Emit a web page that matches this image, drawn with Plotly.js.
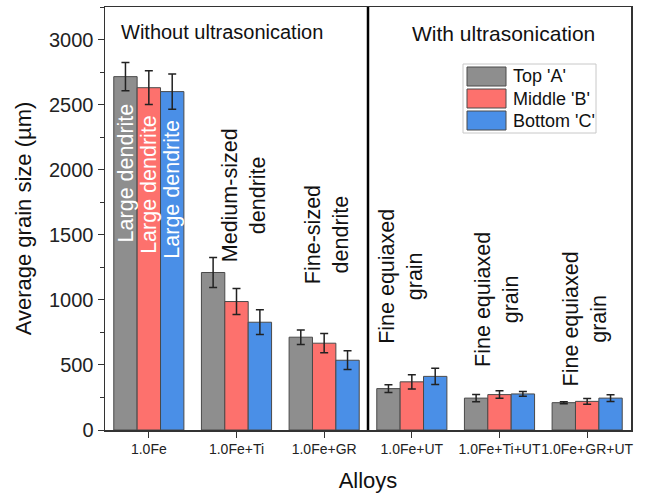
<!DOCTYPE html>
<html>
<head>
<meta charset="utf-8">
<script src="https://cdn.plot.ly/plotly-3.0.1.min.js"></script>
<style>html,body{margin:0;padding:0;background:#fff;}#chart{width:666px;height:494px;}</style>
</head>
<body>
<div id="chart"></div>
<script>
var categories = ["1.0Fe", "1.0Fe+Ti", "1.0Fe+GR", "1.0Fe+UT", "1.0Fe+Ti+UT", "1.0Fe+GR+UT"];
var seriesNames = ["Top 'A'", "Middle 'B'", "Bottom 'C'"];
var topA = [2715, 1210, 713, 318, 245, 210];
var topAErr = [108, 115, 56, 30, 28, 8];
var middleB = [2630, 987, 667, 370, 272, 220];
var middleBErr = [130, 100, 74, 55, 29, 22];
var bottomC = [2600, 828, 536, 412, 277, 245];
var bottomCErr = [135, 95, 72, 62, 18, 26];
var yTicks = [0, 500, 1000, 1500, 2000, 2500, 3000];

var colors = ["#8e8e8e", "#fd716d", "#4a8fe7"];
var values = [topA, middleB, bottomC];
var errs = [topAErr, middleBErr, bottomCErr];
var FONT = "Liberation Sans, Arial, sans-serif";

var traces = values.map(function (v, i) {
  return {
    type: "bar",
    name: seriesNames[i],
    x: categories,
    y: v,
    marker: {color: colors[i], line: {color: "#4a4a4a", width: 1}},
    error_y: {type: "data", array: errs[i], visible: true, color: "#222", thickness: 1.5, width: 4},
    showlegend: false,
    hoverinfo: "x+y+name"
  };
});

var annotations = [
  {x: 0.835, y: 3060, text: "Without ultrasonication", font: {size: 20, color: "#111"}},
  {x: 4.04, y: 3050, text: "With ultrasonication", font: {size: 21, color: "#111"}},
  {x: -0.2667, y: 1975, text: "Large dendrite", textangle: -90, font: {size: 21.5, color: "#fff"}},
  {x: 0, y: 1890, text: "Large dendrite", textangle: -90, font: {size: 21.5, color: "#fff"}},
  {x: 0.2667, y: 1848, text: "Large dendrite", textangle: -90, font: {size: 21.5, color: "#fff"}},
  {x: 1.08, y: 1800, text: "Medium-sized<br>dendrite", textangle: -90, font: {size: 21.5, color: "#111"}},
  {x: 2.025, y: 1500, text: "Fine-sized<br>dendrite", textangle: -90, font: {size: 21.5, color: "#111"}},
  {x: 2.877, y: 1177, text: "Fine equiaxed<br>grain", textangle: -90, font: {size: 21.5, color: "#111"}},
  {x: 3.972, y: 1000, text: "Fine equiaxed<br>grain", textangle: -90, font: {size: 21.5, color: "#111"}},
  {x: 4.98, y: 853, text: "Fine equiaxed<br>grain", textangle: -90, font: {size: 21.5, color: "#111"}}
].map(function (a) {
  a.xref = "x"; a.yref = "y"; a.showarrow = false;
  a.font.family = FONT;
  return a;
});

// custom legend (paper coordinates)
function px(x) { return (x - 105) / 526; }
function py(y) { return (430 - y) / 423; }
var shapes = [
  {type: "line", xref: "x", yref: "paper", x0: 2.5, x1: 2.5, y0: 0, y1: 1, line: {color: "#000", width: 2.5}},
  {type: "rect", xref: "paper", yref: "paper", x0: px(463), x1: px(596), y0: py(133), y1: py(64),
   line: {color: "#c8c8c8", width: 1}, fillcolor: "#fff"}
];
var rowTops = [67, 89, 111];
seriesNames.forEach(function (n, i) {
  shapes.push({type: "rect", xref: "paper", yref: "paper", x0: px(467), x1: px(506),
    y0: py(rowTops[i] + 19), y1: py(rowTops[i]), line: {color: "#4a4a4a", width: 1}, fillcolor: colors[i]});
  annotations.push({xref: "paper", yref: "paper", x: px(511), y: py(rowTops[i] + 9.5), xanchor: "left",
    yanchor: "middle", showarrow: false, text: n, font: {family: FONT, size: 18, color: "#111"}});
});

var layout = {
  width: 666, height: 494,
  margin: {l: 105, r: 35, t: 7, b: 64},
  paper_bgcolor: "#fff", plot_bgcolor: "#fff",
  font: {family: FONT, color: "#222"},
  barmode: "group", bargap: 0.2, bargroupgap: 0,
  xaxis: {
    type: "category", range: [-0.5, 5.5],
    showline: true, linecolor: "#333", linewidth: 1.5, mirror: true,
    ticks: "outside", ticklen: 6, tickcolor: "#333",
    tickangle: 0,
    tickfont: {size: 14, color: "#222"},
    showgrid: false, zeroline: false,
    title: {text: "Alloys", font: {size: 22, color: "#111"}, standoff: 16}
  },
  yaxis: {
    range: [0, 3250], tickvals: yTicks, ticktext: yTicks.map(String),
    showline: true, linecolor: "#333", linewidth: 1.5, mirror: true,
    ticks: "outside", ticklen: 6, tickcolor: "#333",
    minor: {dtick: 250, ticks: "outside", ticklen: 4, tickcolor: "#333", showgrid: false},
    tickfont: {size: 20, color: "#222"},
    showgrid: false, zeroline: false,
    title: {text: "Average grain size (µm)", font: {size: 22, color: "#111"}, standoff: 11}
  },
  annotations: annotations,
  shapes: shapes
};

Plotly.newPlot("chart", traces, layout, {displayModeBar: false, staticPlot: true});
</script>
</body>
</html>
